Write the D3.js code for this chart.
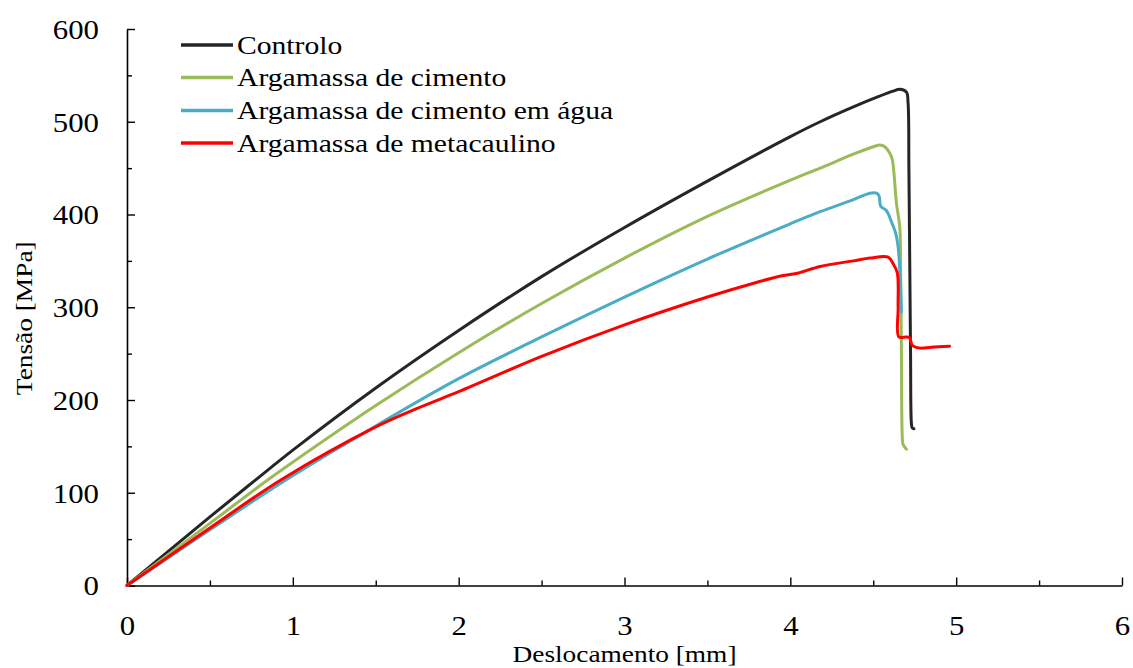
<!DOCTYPE html>
<html>
<head>
<meta charset="utf-8">
<script src="https://cdn.jsdelivr.net/npm/d3@7"></script>
<style>
  html, body { margin: 0; padding: 0; background: #fff; }
  svg { display: block; }
</style>
</head>
<body>
<div id="paper"></div>
<script>
// series: [deslocamento mm, tensao MPa]
const controlo = [[0,0],[0.5,74],[0.77,113],[1,146],[1.5,213],[2,275],[2.5,333],[3,386],[3.5,436],[4,484],[4.18,500],[4.38,516],[4.53,527],[4.62,533],[4.66,535],[4.70,532],[4.71,520],[4.715,450],[4.72,350],[4.725,250],[4.73,175],[4.735,170],[4.745,169]];
const cimento = [[0,0],[0.5,67],[0.85,114],[1,133],[1.5,194],[2,251],[2.5,304],[3,353],[3.5,398],[4,437],[4.18,450],[4.38,465],[4.50,473],[4.54,475],[4.57,473],[4.60,466],[4.615,459],[4.64,412],[4.66,386],[4.665,340],[4.67,250],[4.675,160],[4.68,152],[4.70,147]];
const cimentoAgua = [[0,0],[0.5,60],[0.96,114],[1.5,172],[2,223],[2.5,268],[3,311],[3.5,352],[4,390],[4.18,403],[4.38,416],[4.48,423],[4.52,423],[4.535,420],[4.545,409],[4.58,404],[4.61,392],[4.635,380],[4.65,365],[4.66,340],[4.67,295]];
const metacaulino = [[0,0],[0.5,62],[0.93,114],[1.5,171],[1.75,191],[2,209],[2.5,247],[3,281],[3.5,311],[3.8,327],[3.95,334],[4.05,337],[4.18,344],[4.38,350],[4.48,353],[4.59,354],[4.62,347],[4.645,337],[4.65,300],[4.655,268],[4.70,268],[4.72,267],[4.735,259],[4.78,256],[4.85,257],[4.96,258]];

const seriesNames = ['Controlo', 'Argamassa de cimento', 'Argamassa de cimento em água', 'Argamassa de metacaulino'];
const seriesColors = ['#262626', '#9bbb59', '#4bacc6', '#ff0000'];
const seriesData = [controlo, cimento, cimentoAgua, metacaulino];

const xMajor = [0, 1, 2, 3, 4, 5, 6];
const xMinor = [0.5, 1.5, 2.5, 3.5, 4.5, 5.5];
const yMajor = [0, 100, 200, 300, 400, 500, 600];
const yMinor = [50, 150, 250, 350, 450, 550];

const W = 1133, H = 668;
const font = '"Liberation Serif", "Times New Roman", serif';
const stretch = 1.14;

const x = d3.scaleLinear().domain([0, 6]).range([127, 1122]);
const y = d3.scaleLinear().domain([0, 600]).range([585.5, 29]);

const svg = d3.select('#paper')
  .append('svg')
  .attr('width', W)
  .attr('height', H)
  .style('background-color', 'white');

// minor ticks
svg.append('g')
  .attr('transform', 'translate(0,' + y(0) + ')')
  .call(d3.axisBottom(x).tickValues(xMinor).tickSize(-5).tickFormat(''))
  .call(g => g.select('.domain').remove());
svg.append('g')
  .attr('transform', 'translate(' + x(0) + ',0)')
  .call(d3.axisLeft(y).tickValues(yMinor).tickSize(-5).tickFormat(''))
  .call(g => g.select('.domain').remove());

// major axes
const xAxis = svg.append('g')
  .attr('transform', 'translate(0,' + y(0) + ')')
  .call(d3.axisBottom(x).tickValues(xMajor).tickSize(-8).tickSizeOuter(0).tickFormat(d3.format('d')));
xAxis.selectAll('text')
  .attr('y', 0).attr('dy', '0.35em')
  .attr('transform', 'translate(0,40) scale(' + stretch + ',1)');

const yAxis = svg.append('g')
  .attr('transform', 'translate(' + x(0) + ',0)')
  .call(d3.axisLeft(y).tickValues(yMajor).tickSize(-8).tickSizeOuter(0).tickFormat(d3.format('d')));
yAxis.selectAll('text')
  .attr('x', 0).attr('dy', '0.35em')
  .attr('transform', 'translate(-28,0) scale(' + stretch + ',1)');

svg.selectAll('.tick line').attr('stroke', 'black').attr('stroke-width', 1.4);
svg.selectAll('.domain').attr('stroke', 'black').attr('stroke-width', 1.6);
svg.selectAll('.tick text')
  .attr('font-family', font)
  .attr('font-size', '27px')
  .attr('fill', 'black');

// axis titles
svg.append('text')
  .attr('transform', 'translate(' + ((x(0) + x(6)) / 2) + ',662) scale(' + stretch + ',1)')
  .attr('text-anchor', 'middle')
  .attr('font-family', font)
  .attr('font-size', '24px')
  .attr('fill', 'black')
  .text('Deslocamento [mm]');

svg.append('text')
  .attr('transform', 'translate(32,' + ((y(0) + y(600)) / 2 + 11) + ') rotate(-90) scale(' + stretch + ',1)')
  .attr('text-anchor', 'middle')
  .attr('font-family', font)
  .attr('font-size', '24px')
  .attr('fill', 'black')
  .text('Tensão [MPa]');

// curves
const line = d3.line()
  .x(d => x(d[0]))
  .y(d => y(d[1]))
  .curve(d3.curveCatmullRom.alpha(0.5));

svg.selectAll('.serie')
  .data(seriesData)
  .join('path')
  .attr('class', 'serie')
  .attr('d', d => line(d))
  .attr('fill', 'none')
  .attr('stroke', (d, i) => seriesColors[i])
  .attr('stroke-width', 3)
  .attr('stroke-linejoin', 'round')
  .attr('stroke-linecap', 'round');

// legend
const legend = svg.append('g');
const legY = [45, 77.5, 110.5, 143];
legend.selectAll('line')
  .data(seriesNames)
  .join('line')
  .attr('x1', 181).attr('x2', 233)
  .attr('y1', (d, i) => legY[i]).attr('y2', (d, i) => legY[i])
  .attr('stroke', (d, i) => seriesColors[i])
  .attr('stroke-width', 3.5);
legend.selectAll('text')
  .data(seriesNames)
  .join('text')
  .attr('transform', (d, i) => 'translate(237,' + legY[i] + ') scale(' + stretch + ',1)')
  .attr('dy', '0.33em')
  .attr('font-family', font)
  .attr('font-size', '26px')
  .attr('fill', 'black')
  .text(d => d);
</script>
</body>
</html>
